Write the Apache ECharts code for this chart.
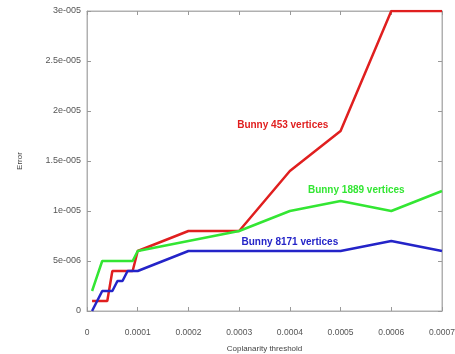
<!DOCTYPE html>
<html><head><meta charset="utf-8">
<script src="https://cdn.jsdelivr.net/npm/echarts@6/dist/echarts.min.js"></script>
<style>html,body{margin:0;padding:0;background:#fff}#c{width:455px;height:354px}</style>
</head><body><div id="c"></div>
<script>
const xTickLabels = ['0','0.0001','0.0002','0.0003','0.0004','0.0005','0.0006','0.0007'];
const yTickLabels = ['0','5e-006','1e-005','1.5e-005','2e-005','2.5e-005','3e-005'];

const redX = [0.00001,0.00004,0.00005,0.00009,0.0001,0.0002,0.0003,0.0004,0.0005,0.0006,0.0007];
const redY = [1e-6,1e-6,4e-6,4e-6,6e-6,8e-6,8e-6,1.4e-5,1.8e-5,3e-5,3e-5];
const greenX = [0.00001,0.00003,0.00009,0.0001,0.0002,0.0003,0.0004,0.0005,0.0006,0.0007];
const greenY = [2e-6,5e-6,5e-6,6e-6,7e-6,8e-6,1e-5,1.1e-5,1e-5,1.2e-5];
const blueX = [0.00001,0.00003,0.00005,0.00006,0.00007,0.00008,0.0001,0.0002,0.0003,0.0004,0.0005,0.0006,0.0007];
const blueY = [0,2e-6,2e-6,3e-6,3e-6,4e-6,4e-6,6e-6,6e-6,6e-6,6e-6,7e-6,6e-6];

const seriesNames = ['Bunny 453 vertices','Bunny 1889 vertices','Bunny 8171 vertices'];
const labelPos = [[0.000386,1.86e-5],[0.000531,1.21e-5],[0.0004,6.9e-6]];

const colors = ['#e01f1f','#33e633','#2424c8'];
const zip = (a,b)=>a.map((v,i)=>[v,b[i]]);
const datas = [zip(redX,redY), zip(greenX,greenY), zip(blueX,blueY)];

const chart = echarts.init(document.getElementById('c'));
const fontFam = '"Liberation Sans", Arial, sans-serif';
const xFmt = v => { const i = Math.round(v/0.0001); return xTickLabels[i] !== undefined ? xTickLabels[i] : ''; };
const yFmt = v => { const i = Math.round(v/5e-6); return yTickLabels[i] !== undefined ? yTickLabels[i] : ''; };
const lineC = '#b0b0b0';
const axLine = {show:true,onZero:false,lineStyle:{color:lineC,width:1}};
const axTick = {show:true,inside:true,length:4,lineStyle:{color:'#999'}};

chart.setOption({
  animation:false,
  grid:{left:87,right:13,top:11,bottom:43,containLabel:false,outerBoundsMode:'none',
        show:true,borderColor:lineC,borderWidth:1},
  xAxis:[{
    type:'value',min:0,max:0.0007,interval:0.0001,position:'bottom',
    name:'Coplanarity threshold',nameLocation:'middle',nameGap:34,
    nameTextStyle:{color:'#444',fontSize:8,fontFamily:fontFam},
    axisLine:axLine,axisTick:axTick,
    splitLine:{show:false},axisLabel:{formatter:xFmt,margin:17,color:'#555',fontSize:8.5,fontFamily:fontFam}
  },{
    show:true,gridIndex:0,type:'value',position:'top',min:0,max:0.0007,interval:0.0001,
    axisLine:axLine,axisTick:axTick,
    splitLine:{show:false},axisLabel:{show:false}
  }],
  yAxis:[{
    type:'value',min:0,max:3e-5,interval:5e-6,position:'left',
    name:'Error',nameLocation:'middle',nameGap:63,nameRotate:90,
    nameTextStyle:{color:'#444',fontSize:8,fontFamily:fontFam},
    axisLine:axLine,axisTick:axTick,
    splitLine:{show:false},axisLabel:{formatter:yFmt,margin:6,color:'#555',fontSize:9,fontFamily:fontFam}
  },{
    show:true,gridIndex:0,type:'value',position:'right',min:0,max:3e-5,interval:5e-6,
    axisLine:axLine,axisTick:axTick,
    splitLine:{show:false},axisLabel:{show:false}
  }],
  series: datas.map((d,i)=>({
    type:'line',name:seriesNames[i],data:d,showSymbol:false,symbol:'none',
    lineStyle:{color:colors[i],width:2.5},
    markPoint:{symbol:'circle',symbolSize:0,silent:true,
      data:[{coord:labelPos[i],label:{show:true,formatter:seriesNames[i],color:colors[i],
        fontSize:10,fontWeight:'bold',fontFamily:fontFam,position:'inside'}}]}
  }))
});
</script></body></html>
